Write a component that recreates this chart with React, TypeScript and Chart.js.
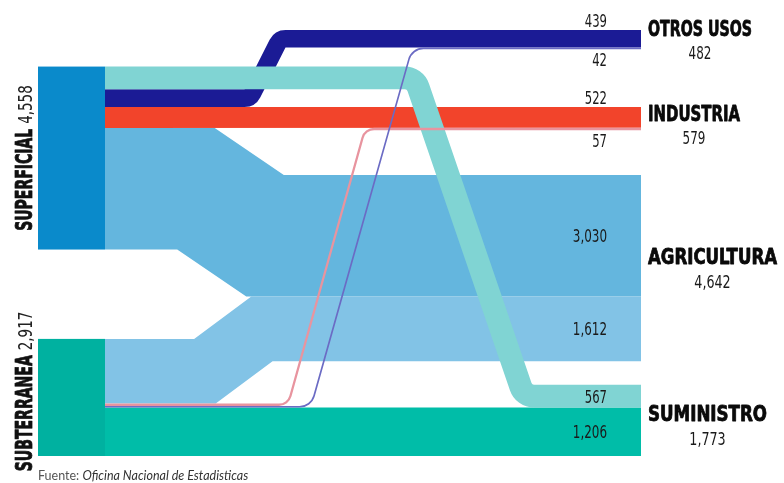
import React, { useEffect, useRef } from 'react';
import { Chart, registerables } from 'chart.js';

Chart.register(...registerables);

// ---------- DATA ----------
const sources = ['SUPERFICIAL', 'SUBTERRANEA'];
const sourceTotals = [4558, 2917];
const targets = ['OTROS USOS', 'INDUSTRIA', 'AGRICULTURA', 'SUMINISTRO'];
const targetTotals = [482, 579, 4642, 1773];
// flow values, indexed by target (OTROS USOS, INDUSTRIA, AGRICULTURA, SUMINISTRO)
const fromSuperficial = [439, 522, 3030, 567];
const fromSubterranea = [42, 57, 1612, 1206];
const sourceLabel = 'Fuente: ';
const sourceName = 'Oficina Nacional de Estadisticas';

// ---------- LAYOUT / STYLE ----------
const FLOWS = [fromSuperficial, fromSubterranea];
const SOURCE_STACK_ORDER = [
  [3, 0, 1, 2],
  [2, 1, 0, 3],
];
const LEFT_GAPS = [911, 2226]; // value units before each source node
const RIGHT_GAPS = [0, 1435, 1114, 587]; // value units before each target node
const X_MAX = 603;
const NODE_W = 67;
// [bend start x, bend end x, corner radius] in x units, null = straight
const BENDS: (number[] | null)[][] = [
  [[212, 242, 9], null, [158, 227, 0], [377, 486, 14]],
  [[273, 374, 15], [250, 327, 12], [167, 224, 0], null],
];
const FLOW_COLORS = [
  ['#1B1B95', '#F2442B', '#64B6DE', '#80D4D3'],
  ['#6B6BC4', '#E8949F', '#82C3E6', '#00BDA8'],
];
const NODE_COLORS = ['#0A8ACB', '#00B1A0'];
const DRAW_ORDER = [
  [0, 2], [1, 2], [1, 3], [0, 1], [0, 0], [0, 3], [1, 1], [1, 0],
];
const LABEL_MODE = ['outside', 'outside', 'inside', 'inside'];
const TITLE_WIDTHS = [104, 92, 129, 119];
const TITLE_NUDGE = [0, 6, 0, 5];
const LEFT_TITLE_WIDTHS = [102, 116];
const LEFT_NUDGE = [0, -6];

const NARROW = '"Liberation Sans Narrow", "DejaVu Sans Condensed", "Arial Narrow", sans-serif';

const fmt = (n: number) => n.toLocaleString('en-US');
const numWidth = (s: string, d: number, c: number) => {
  let w = 0;
  for (const ch of s) w += ch === ',' ? c : d;
  return w;
};

function fitText(
  ctx: CanvasRenderingContext2D,
  text: string,
  x: number,
  yCenter: number,
  font: string,
  width: number,
  align: 'left' | 'right' | 'center',
  color: string,
  heavy = 0
) {
  ctx.save();
  ctx.font = font;
  ctx.fillStyle = color;
  ctx.textBaseline = 'alphabetic';
  ctx.textAlign = 'left';
  const m = ctx.measureText(text);
  const sx = width / m.width;
  const hm = ctx.measureText('H');
  const cap = hm.actualBoundingBoxAscent || 13;
  const baseline = yCenter + cap / 2;
  const left = align === 'left' ? x : align === 'right' ? x - width : x - width / 2;
  ctx.translate(left, baseline);
  ctx.scale(sx, 1);
  ctx.fillText(text, 0, 0);
  if (heavy > 0) {
    ctx.strokeStyle = color;
    ctx.lineWidth = heavy;
    ctx.lineJoin = 'round';
    ctx.strokeText(text, 0, 0);
  }
  ctx.restore();
}

const sankeyPlugin = {
  id: 'sankeyDraw',
  afterDatasetsDraw(chart: any) {
    const ctx: CanvasRenderingContext2D = chart.ctx;
    const xs = chart.scales.x;
    const ys = chart.scales.y;
    const X = (v: number) => xs.getPixelForValue(v);
    const Y = (v: number) => ys.getPixelForValue(v);
    const unit = Math.abs(Y(1000) - Y(0)) / 1000;

    // node positions (value units)
    const leftTop: number[] = [];
    let acc = 0;
    sources.forEach((_, s) => {
      acc += LEFT_GAPS[s];
      leftTop.push(acc);
      acc += FLOWS[s].reduce((a, b) => a + b, 0);
    });
    const rightTop: number[] = [];
    acc = 0;
    targets.forEach((_, t) => {
      acc += RIGHT_GAPS[t];
      rightTop.push(acc);
      acc += FLOWS[0][t] + FLOWS[1][t];
    });

    // offsets of flows
    const srcOff: number[][] = [[], []];
    sources.forEach((_, s) => {
      let o = leftTop[s];
      SOURCE_STACK_ORDER[s].forEach((t) => {
        srcOff[s][t] = o;
        o += FLOWS[s][t];
      });
    });
    const tgtOff: number[][] = [[], []];
    targets.forEach((_, t) => {
      let o = rightTop[t];
      [0, 1].forEach((s) => {
        tgtOff[s][t] = o;
        o += FLOWS[s][t];
      });
    });

    ctx.save();
    // flows
    DRAW_ORDER.forEach(([s, t]) => {
      const v = FLOWS[s][t];
      const y0 = Y(srcOff[s][t] + v / 2);
      const y1 = Y(tgtOff[s][t] + v / 2);
      const w = v * unit;
      const b = BENDS[s][t];
      ctx.beginPath();
      ctx.moveTo(X(NODE_W), y0);
      if (b) {
        ctx.arcTo(X(b[0]), y0, X(b[1]), y1, b[2]);
        ctx.arcTo(X(b[1]), y1, X(X_MAX), y1, b[2]);
      }
      ctx.lineTo(X(X_MAX), y1);
      ctx.lineWidth = w;
      ctx.lineCap = 'butt';
      ctx.lineJoin = b && b[2] > 0 ? 'round' : 'miter';
      ctx.miterLimit = 10;
      ctx.strokeStyle = FLOW_COLORS[s][t];
      ctx.stroke();
    });

    // source nodes
    sources.forEach((name, s) => {
      const top = Y(leftTop[s]);
      const bot = Y(leftTop[s] + sourceTotals[s]);
      ctx.fillStyle = NODE_COLORS[s];
      ctx.fillRect(X(0), top, X(NODE_W) - X(0), bot - top);

      // rotated label
      const center = (top + bot) / 2 + LEFT_NUDGE[s];
      const numText = fmt(sourceTotals[s]);
      const nW = numWidth(numText, 8.4, 5);
      const tW = LEFT_TITLE_WIDTHS[s];
      const gap = 5;
      const total = tW + gap + nW;
      ctx.save();
      ctx.translate(X(0) - 6, center + total / 2);
      ctx.rotate(-Math.PI / 2);
      // in rotated frame: baseline at y=0, text flows along +x
      ctx.textBaseline = 'alphabetic';
      ctx.textAlign = 'left';
      ctx.font = `bold 23px ${NARROW}`;
      ctx.fillStyle = '#111';
      let m = ctx.measureText(name);
      ctx.save();
      ctx.scale(tW / m.width, 1);
      ctx.fillText(name, 0, 0);
      ctx.strokeStyle = '#111';
      ctx.lineWidth = 0.8;
      ctx.lineJoin = 'round';
      ctx.strokeText(name, 0, 0);
      ctx.restore();
      ctx.font = `19px ${NARROW}`;
      ctx.fillStyle = '#222';
      m = ctx.measureText(numText);
      ctx.save();
      ctx.translate(tW + gap, 0);
      ctx.scale(nW / m.width, 1);
      ctx.fillText(numText, 0, 0);
      ctx.restore();
      ctx.restore();
    });

    // flow value labels
    const labelX = X(569);
    const numFont = `18px ${NARROW}`;
    targets.forEach((_, t) => {
      [0, 1].forEach((s) => {
        const v = FLOWS[s][t];
        const txt = fmt(v);
        let yc: number;
        if (LABEL_MODE[t] === 'outside') {
          yc = s === 0 ? Y(tgtOff[s][t]) - 9.5 : Y(tgtOff[s][t] + v) + 10.5;
        } else {
          yc = (Y(tgtOff[s][t]) + Y(tgtOff[s][t] + v)) / 2;
        }
        fitText(ctx, txt, labelX, yc, numFont, numWidth(txt, 7.4, 4.6), 'right', '#1a1a1a');
      });
    });

    // target titles
    const titleX = X(610);
    targets.forEach((name, t) => {
      const top = Y(rightTop[t]);
      const bot = Y(rightTop[t] + FLOWS[0][t] + FLOWS[1][t]);
      const c = (top + bot) / 2 + TITLE_NUDGE[t];
      fitText(ctx, name, titleX, c - 12, `bold 21px ${NARROW}`, TITLE_WIDTHS[t], 'left', '#0a0a0a', 0.8);
      const vt = fmt(targetTotals[t]);
      fitText(ctx, vt, titleX + TITLE_WIDTHS[t] / 2, c + 13, numFont, numWidth(vt, 7.6, 6), 'center', '#1a1a1a');
    });

    // source note
    ctx.textBaseline = 'alphabetic';
    ctx.textAlign = 'left';
    ctx.font = '12.5px Lato, "Open Sans", sans-serif';
    ctx.fillStyle = '#555';
    const nx = X(0);
    ctx.fillText(sourceLabel, nx, 480);
    const lw = ctx.measureText(sourceLabel).width;
    ctx.font = 'italic 12.5px Lato, "Open Sans", sans-serif';
    ctx.fillStyle = '#333';
    ctx.fillText(sourceName, nx + lw, 480);
    ctx.restore();
  },
};

export default function App() {
  const ref = useRef<HTMLCanvasElement | null>(null);
  useEffect(() => {
    if (!ref.current) return;
    const yMax =
      LEFT_GAPS.reduce((a, b) => a + b, 0) +
      FLOWS.flat().reduce((a, b) => a + b, 0);
    const chart = new Chart(ref.current, {
      type: 'scatter',
      data: { datasets: [{ data: [] }] },
      options: {
        animation: false,
        responsive: true,
        maintainAspectRatio: false,
        events: [],
        layout: { padding: { left: 38, right: 143, top: 30, bottom: 27 } },
        plugins: { legend: { display: false }, tooltip: { enabled: false } },
        scales: {
          x: { type: 'linear', min: 0, max: X_MAX, display: false },
          y: { type: 'linear', min: 0, max: yMax, reverse: true, display: false },
        },
      },
      plugins: [sankeyPlugin],
    });
    return () => chart.destroy();
  }, []);
  return (
    <div style={{ position: 'fixed', left: 0, top: 0, width: 784, height: 483, background: '#fff' }}>
      <canvas ref={ref} />
    </div>
  );
}
